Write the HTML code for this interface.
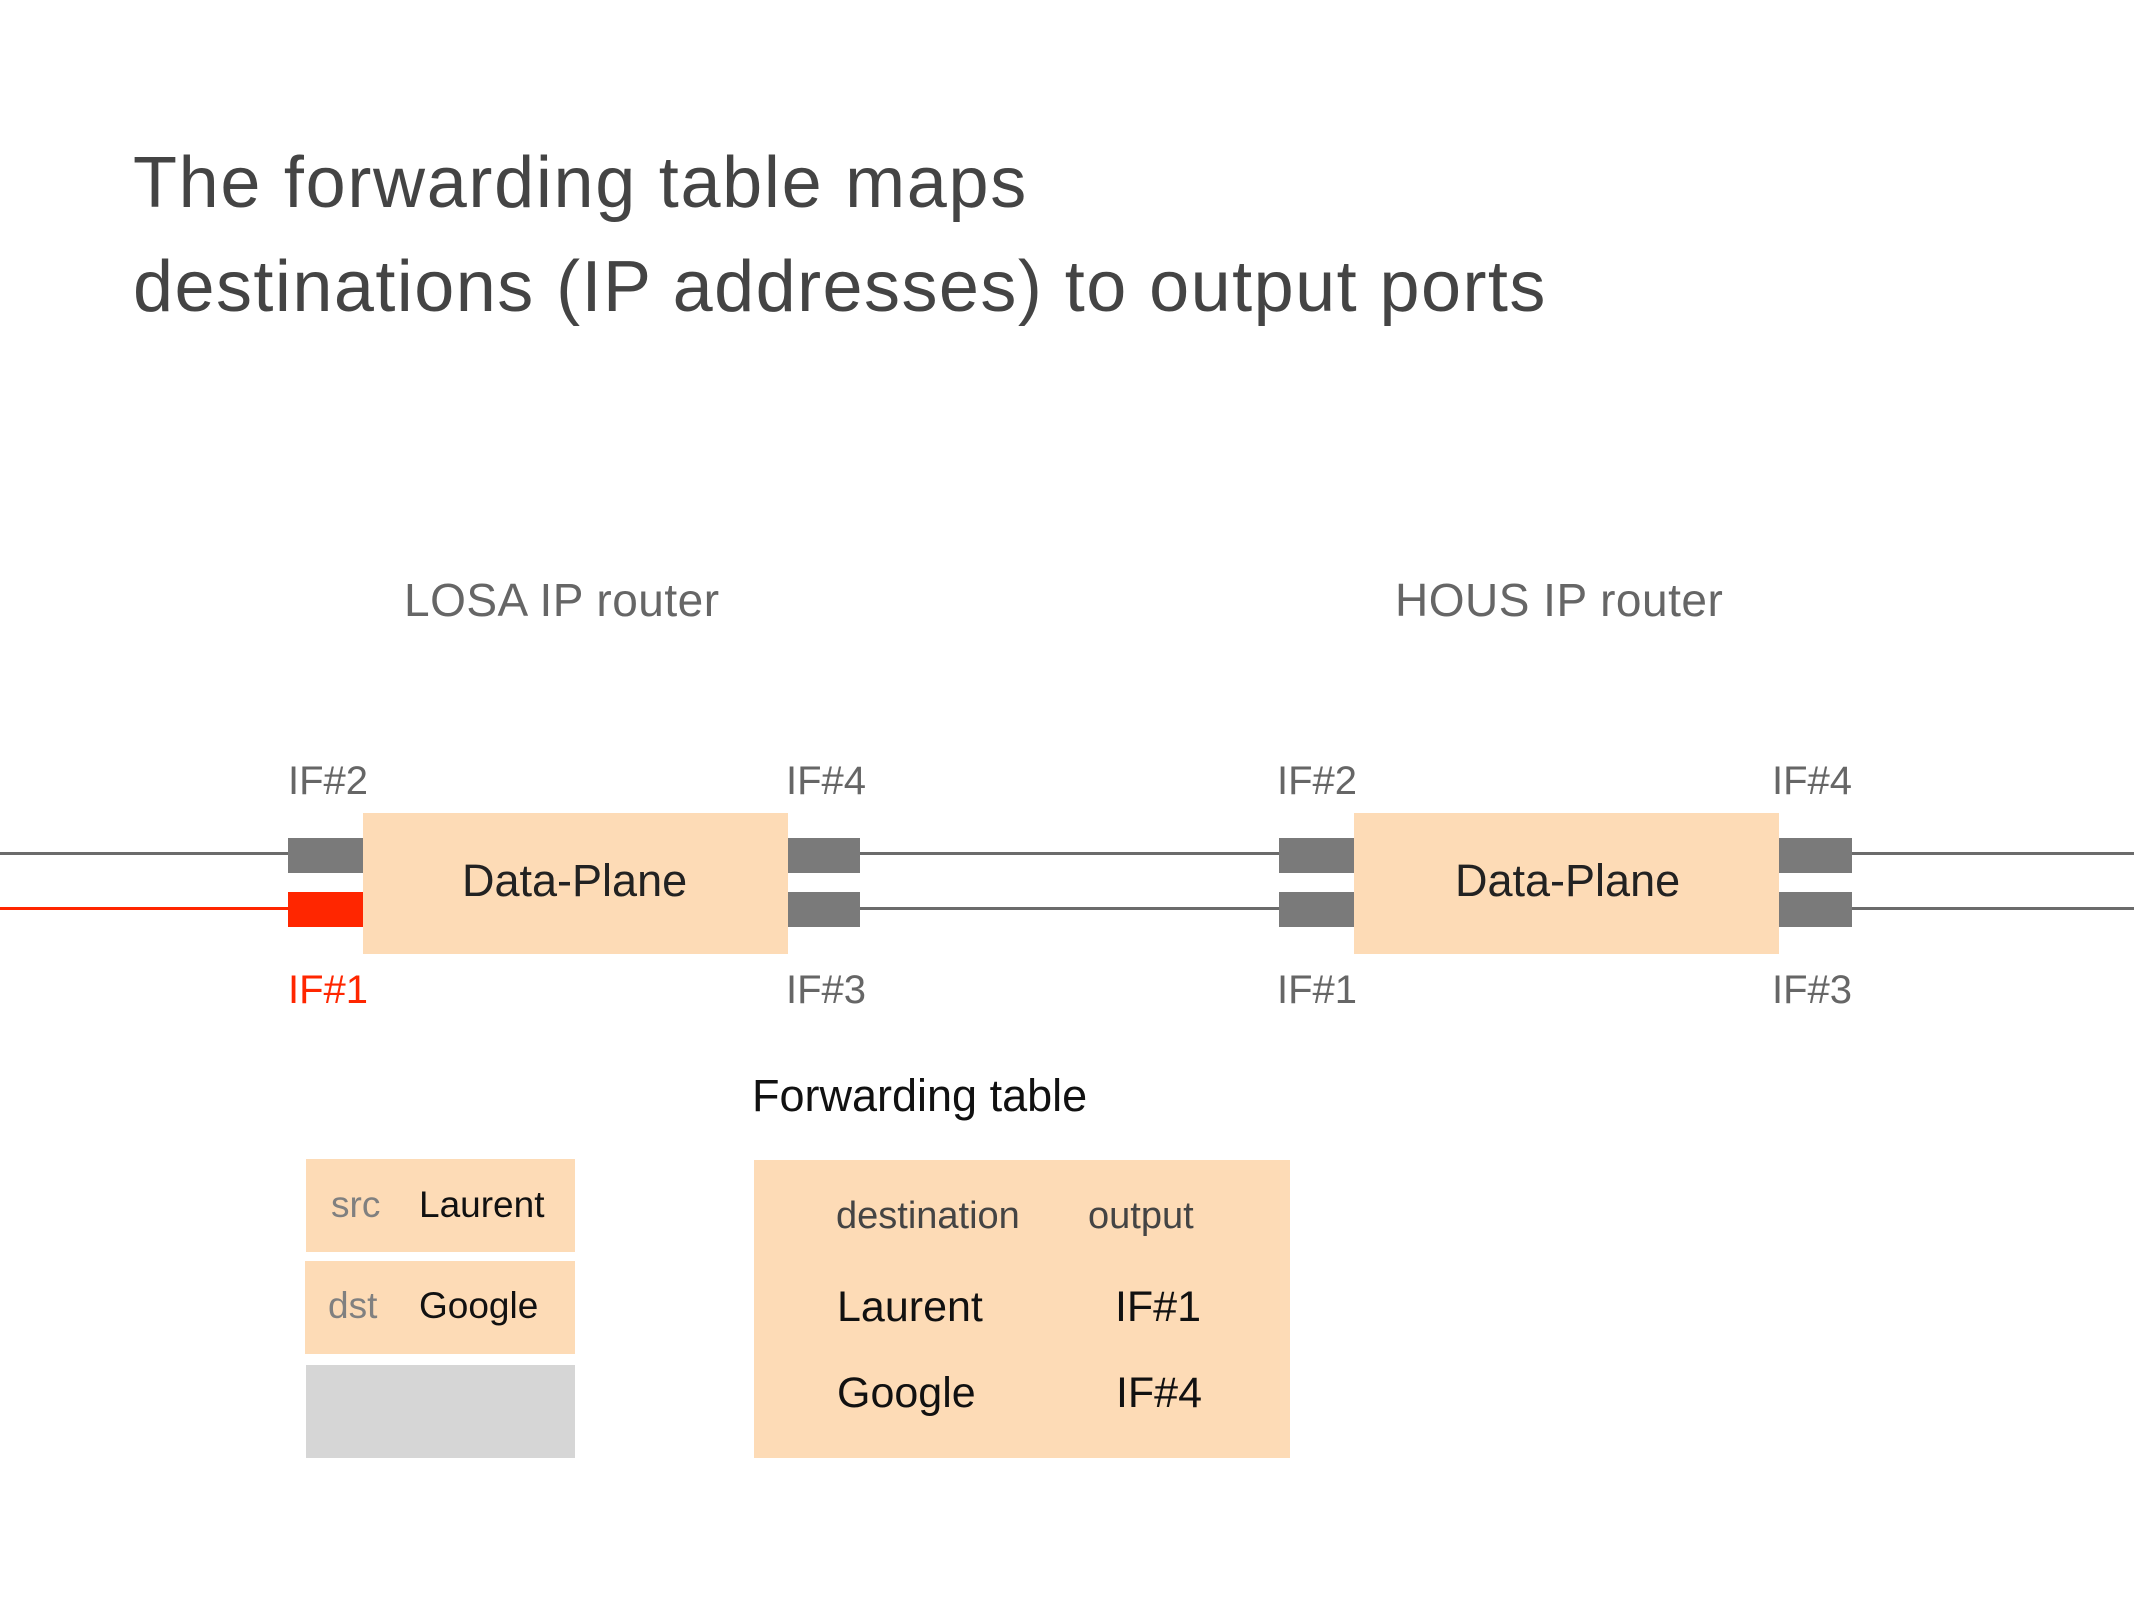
<!DOCTYPE html>
<html>
<head>
<meta charset="utf-8">
<style>
html,body{margin:0;padding:0;background:#fff;}
body{width:2134px;height:1600px;position:relative;overflow:hidden;font-family:"Liberation Sans",sans-serif;}
.t{position:absolute;white-space:nowrap;line-height:1;}
.r{position:absolute;}
</style>
</head>
<body>
<!-- Title -->
<div class="t" style="left:133px;top:147px;font-size:72px;color:#444;letter-spacing:1.7px;">The forwarding table maps</div>
<div class="t" style="left:133px;top:251px;font-size:72px;color:#444;letter-spacing:1.45px;">destinations (IP addresses) to output ports</div>

<!-- Router labels -->
<div class="t" style="left:404px;top:577px;font-size:46px;color:#666;letter-spacing:0.5px;">LOSA IP router</div>
<div class="t" style="left:1395px;top:577px;font-size:46px;color:#666;letter-spacing:0.5px;">HOUS IP router</div>

<!-- Lines -->
<div class="r" style="left:0;top:852px;width:288px;height:3px;background:#6b6b6b;"></div>
<div class="r" style="left:0;top:907px;width:288px;height:3px;background:#ff2600;"></div>
<div class="r" style="left:860px;top:852px;width:419px;height:3px;background:#6b6b6b;"></div>
<div class="r" style="left:860px;top:907px;width:419px;height:3px;background:#6b6b6b;"></div>
<div class="r" style="left:1852px;top:852px;width:282px;height:3px;background:#6b6b6b;"></div>
<div class="r" style="left:1852px;top:907px;width:282px;height:3px;background:#6b6b6b;"></div>

<!-- LOSA router -->
<div class="r" style="left:288px;top:838px;width:75px;height:35px;background:#7a7a7a;"></div>
<div class="r" style="left:288px;top:892px;width:75px;height:35px;background:#ff2600;"></div>
<div class="r" style="left:363px;top:813px;width:425px;height:141px;background:#fddbb6;"></div>
<div class="r" style="left:788px;top:838px;width:72px;height:35px;background:#7a7a7a;"></div>
<div class="r" style="left:788px;top:892px;width:72px;height:35px;background:#7a7a7a;"></div>
<div class="t" style="left:462px;top:858px;font-size:45px;color:#222;">Data-Plane</div>

<div class="t" style="left:288px;top:761px;font-size:40px;color:#666;">IF#2</div>
<div class="t" style="left:288px;top:970px;font-size:40px;color:#ff2600;">IF#1</div>
<div class="t" style="left:786px;top:761px;font-size:40px;color:#666;">IF#4</div>
<div class="t" style="left:786px;top:970px;font-size:40px;color:#666;">IF#3</div>

<!-- HOUS router -->
<div class="r" style="left:1279px;top:838px;width:75px;height:35px;background:#7a7a7a;"></div>
<div class="r" style="left:1279px;top:892px;width:75px;height:35px;background:#7a7a7a;"></div>
<div class="r" style="left:1354px;top:813px;width:425px;height:141px;background:#fddbb6;"></div>
<div class="r" style="left:1779px;top:838px;width:73px;height:35px;background:#7a7a7a;"></div>
<div class="r" style="left:1779px;top:892px;width:73px;height:35px;background:#7a7a7a;"></div>
<div class="t" style="left:1455px;top:858px;font-size:45px;color:#222;">Data-Plane</div>

<div class="t" style="left:1277px;top:761px;font-size:40px;color:#666;">IF#2</div>
<div class="t" style="left:1277px;top:970px;font-size:40px;color:#666;">IF#1</div>
<div class="t" style="left:1772px;top:761px;font-size:40px;color:#666;">IF#4</div>
<div class="t" style="left:1772px;top:970px;font-size:40px;color:#666;">IF#3</div>

<!-- Packet -->
<div class="r" style="left:306px;top:1159px;width:269px;height:93px;background:#fddbb6;"></div>
<div class="r" style="left:305px;top:1261px;width:270px;height:93px;background:#fddbb6;"></div>
<div class="r" style="left:306px;top:1365px;width:269px;height:93px;background:#d6d6d6;"></div>
<div class="t" style="left:331px;top:1186px;font-size:37px;color:#808080;">src</div>
<div class="t" style="left:419px;top:1186px;font-size:37px;color:#111;">Laurent</div>
<div class="t" style="left:328px;top:1287px;font-size:37px;color:#808080;">dst</div>
<div class="t" style="left:419px;top:1287px;font-size:37px;color:#111;">Google</div>

<!-- Forwarding table -->
<div class="t" style="left:752px;top:1073px;font-size:45px;color:#111;">Forwarding table</div>
<div class="r" style="left:754px;top:1160px;width:536px;height:298px;background:#fddbb6;"></div>
<div class="t" style="left:836px;top:1197px;font-size:38px;color:#444;">destination</div>
<div class="t" style="left:1088px;top:1197px;font-size:38px;color:#444;">output</div>
<div class="t" style="left:837px;top:1286px;font-size:43px;color:#111;">Laurent</div>
<div class="t" style="right:933px;top:1286px;font-size:43px;color:#111;">IF#1</div>
<div class="t" style="left:837px;top:1372px;font-size:43px;color:#111;">Google</div>
<div class="t" style="right:932px;top:1372px;font-size:43px;color:#111;">IF#4</div>
</body>
</html>
